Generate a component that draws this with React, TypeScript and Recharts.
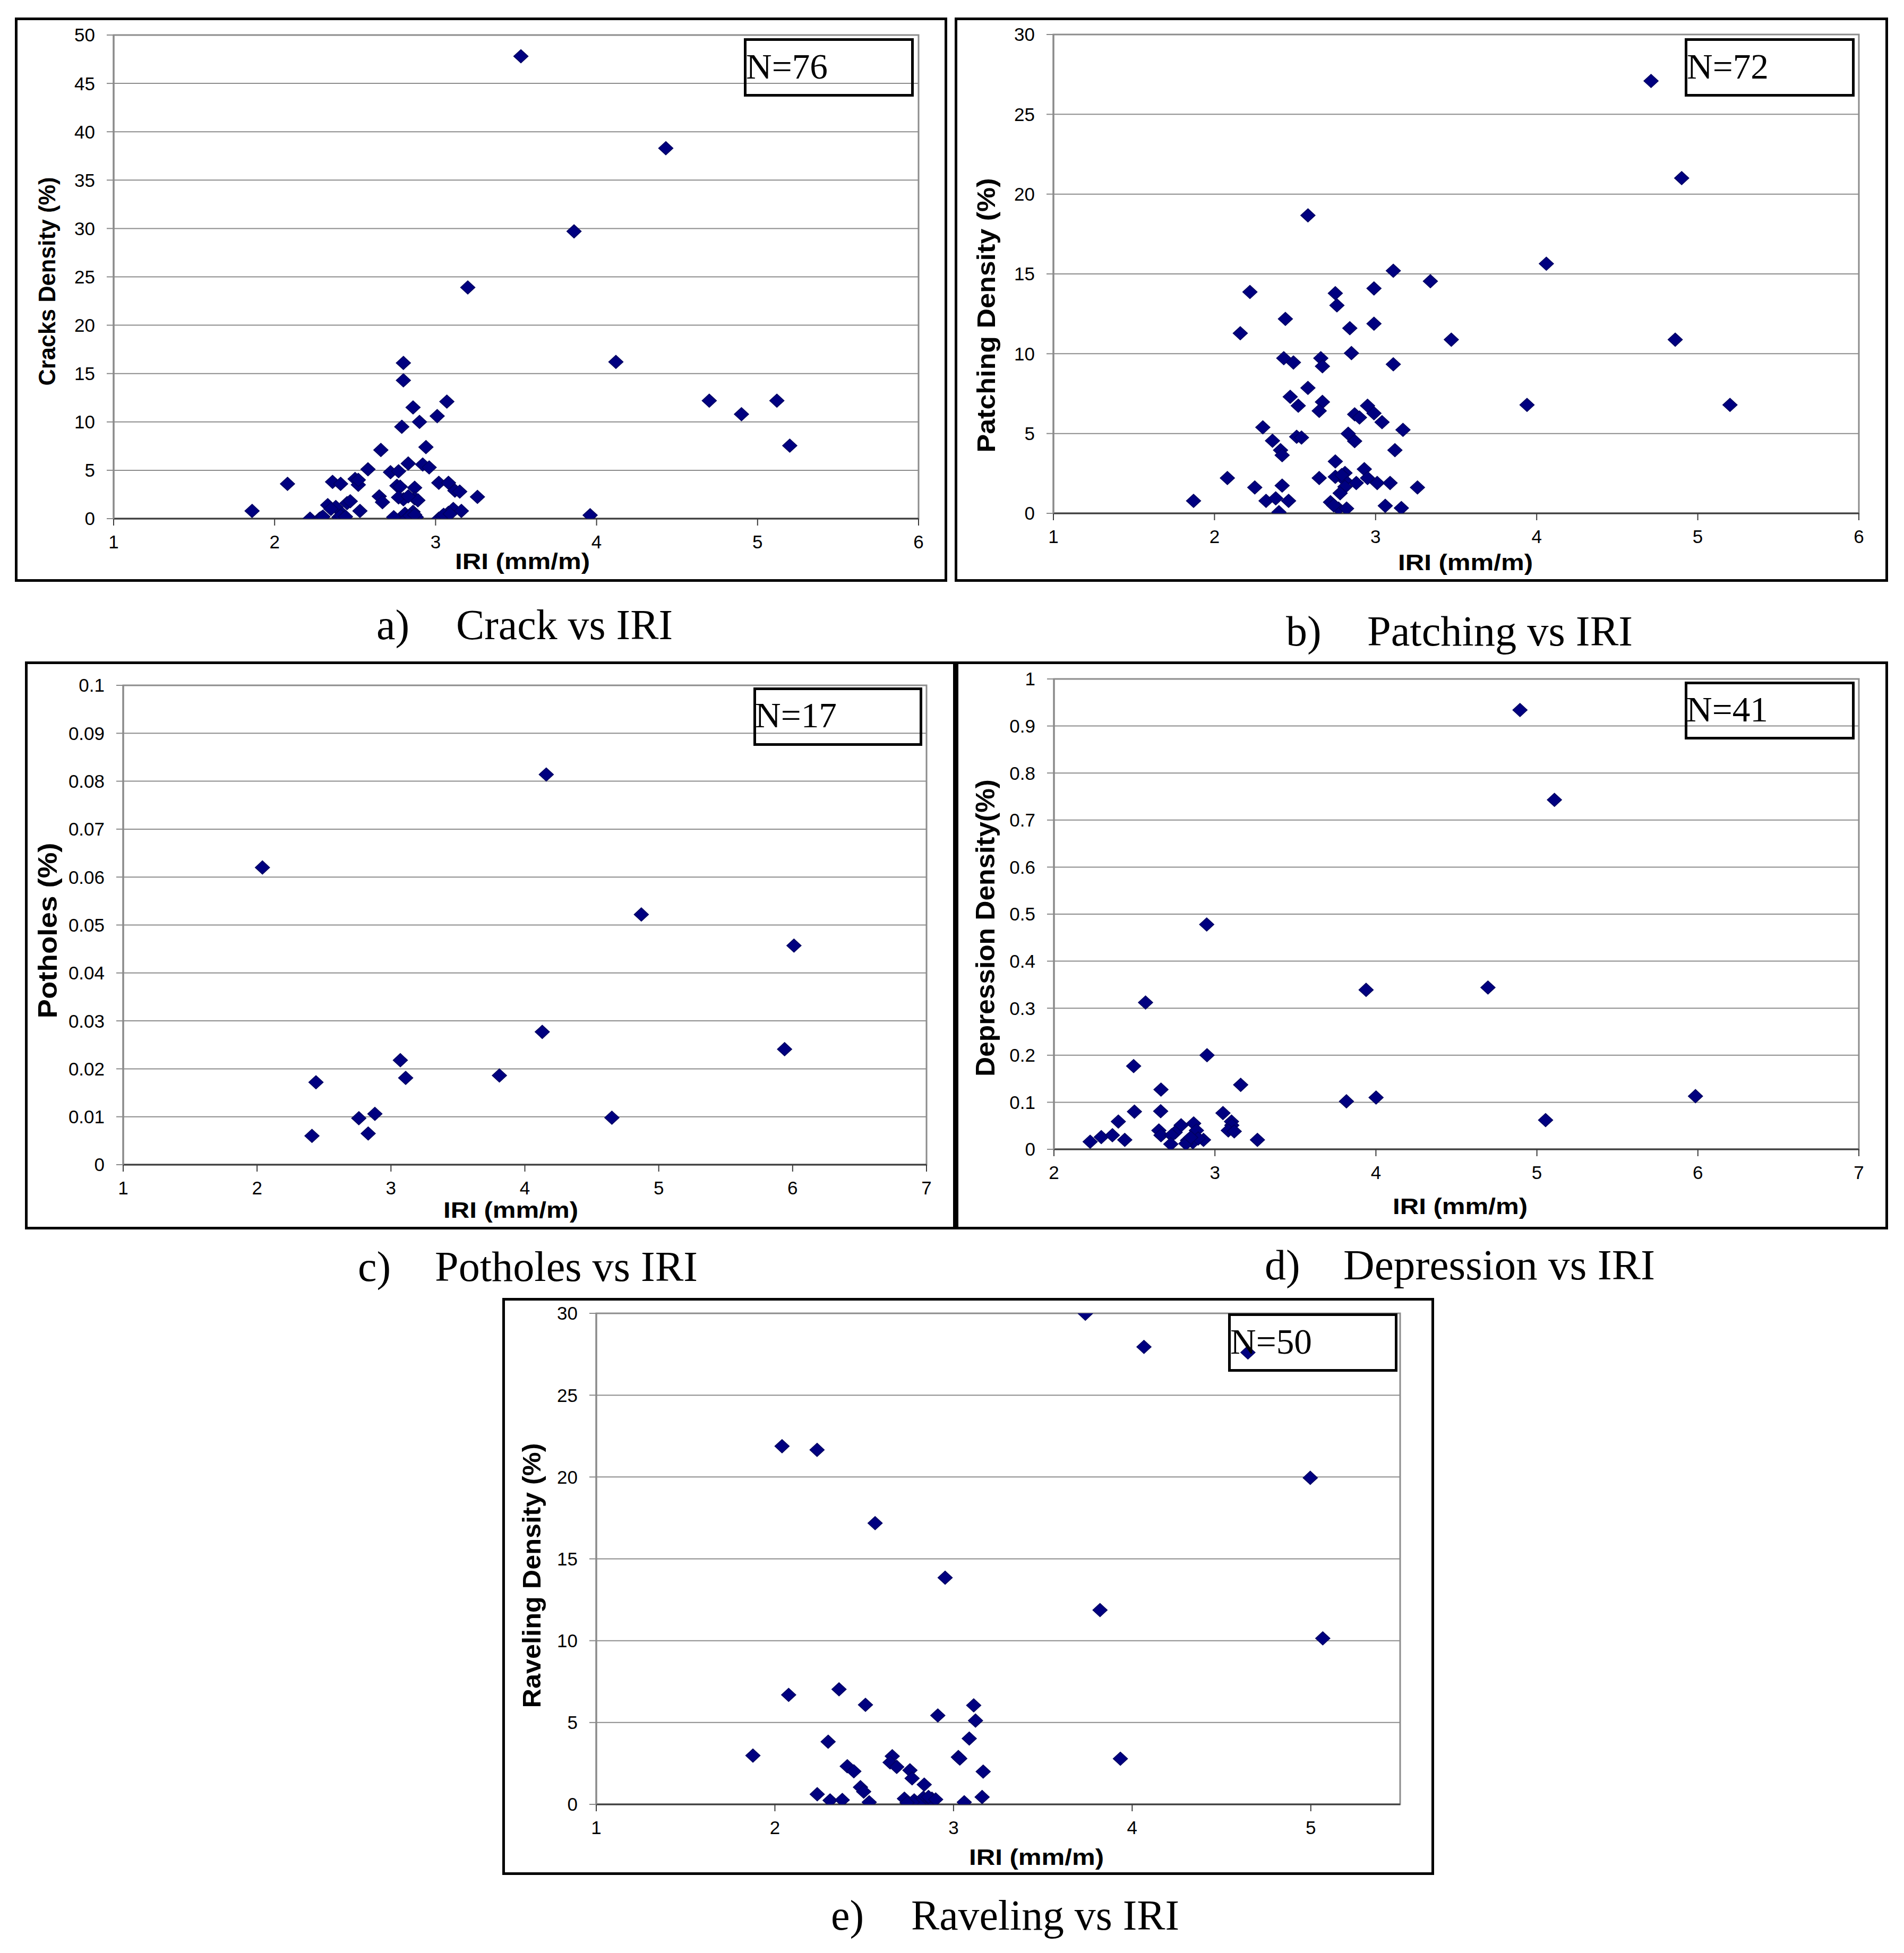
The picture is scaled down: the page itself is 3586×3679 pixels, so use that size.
import React from 'react';
import { ScatterChart, Scatter, XAxis, YAxis, CartesianGrid, ReferenceArea } from 'recharts';

// ---------- data ----------
const crackIri = [1.86,2.08,2.22,2.28,2.29,2.33,2.36,2.38,2.40,2.41,2.42,2.43,2.45,2.47,2.50,2.52,2.53,2.58,2.65,2.66,2.67,2.72,2.74,2.76,2.77,2.78,2.79,2.80,2.80,2.80,2.81,2.82,2.83,2.86,2.86,2.87,2.87,2.88,2.89,2.90,2.92,2.94,2.96,3.01,3.02,3.02,3.04,3.07,3.08,3.08,3.11,3.12,3.15,3.16,3.20,3.26,3.53,3.86,3.96,4.12,4.43,4.70,4.90,5.12,5.20,2.35,2.41,2.44,2.84,2.87,3.05,3.09,2.77,2.52,2.30,2.83];
const crackDensity = [0.8,3.6,0,0,0.1,1.4,3.8,1.2,0.15,3.6,0.5,0,1.6,1.8,4.1,3.5,0.8,5.1,2.3,7.1,1.7,4.8,0.15,3.4,4.9,3.3,9.5,2.0,16.1,14.3,0.5,0,5.7,0.7,11.5,3.2,2.1,0.15,1.9,10.0,5.6,7.4,5.3,10.6,3.7,0,0.24,12.1,0.6,3.7,1.0,2.9,2.8,0.8,23.9,2.25,47.8,29.7,0.35,16.2,38.3,12.2,10.8,12.2,7.55,1.0,0.3,0.2,0.3,0.4,0.4,0.5,2.2,4.0,0.2,2.3];

const patchIri = [2.58,3.11,3.34,2.22,2.75,2.76,2.99,2.44,2.16,2.84,2.99,2.85,2.43,2.49,2.66,2.67,3.11,2.58,2.47,2.52,2.67,2.65,2.95,2.99,3.04,2.87,2.90,3.17,2.30,2.36,2.51,2.54,2.83,2.87,3.12,2.41,2.42,2.75,2.08,2.65,2.75,2.81,2.81,2.81,2.88,2.93,2.95,3.01,3.09,2.25,2.42,3.26,1.87,2.32,2.38,2.46,2.40,2.72,2.77,2.82,2.78,3.06,3.16,4.71,4.90,4.06,3.47,4.86,3.94,5.20,2.74,2.79];
const patchDensity = [18.67,15.2,14.54,13.87,13.79,13.03,14.09,12.18,11.28,11.6,11.88,10.04,9.72,9.45,9.72,9.21,9.34,7.86,7.3,6.74,6.98,6.42,6.74,6.27,5.71,6.2,6.0,5.23,5.39,4.55,4.8,4.75,4.99,4.52,3.96,3.96,3.64,3.25,2.21,2.21,2.29,2.53,2.05,1.66,1.9,2.77,2.21,1.9,1.9,1.62,1.74,1.62,0.78,0.78,0.94,0.78,0.07,0.7,0.3,0.3,1.26,0.47,0.33,27.09,21.0,15.64,10.88,10.88,6.79,6.79,0.5,2.4];

const potholeIri = [2.04,4.16,4.87,6.01,4.13,5.94,3.07,3.11,3.81,2.44,4.65,2.88,2.76,2.83,2.41];
const potholeValue = [0.062,0.0814,0.0522,0.0457,0.0277,0.0241,0.0218,0.0181,0.0186,0.0172,0.0098,0.0106,0.0097,0.0065,0.006];

const deprIri = [4.895,5.109,2.949,4.696,3.939,2.569,2.951,2.495,3.16,2.665,5.985,4.001,3.817,2.50,2.663,3.05,5.054,2.40,3.103,3.105,3.083,3.12,2.652,2.665,2.79,2.753,2.731,2.868,2.885,2.225,2.294,2.363,2.44,2.726,2.83,2.863,2.929,2.896,3.264,2.82,2.85];
const deprDensity = [0.934,0.743,0.478,0.344,0.339,0.312,0.200,0.177,0.137,0.127,0.113,0.110,0.102,0.080,0.081,0.077,0.062,0.059,0.059,0.051,0.040,0.038,0.040,0.030,0.051,0.036,0.030,0.055,0.040,0.016,0.026,0.030,0.020,0.011,0.019,0.015,0.020,0.023,0.020,0.012,0.025];

const ravelIri = [3.738,4.066,4.648,2.04,2.236,4.997,2.561,2.953,3.82,5.067,3.934,1.877,2.077,2.359,2.507,2.912,3.113,3.123,3.088,3.027,3.035,3.166,3.16,3.06,2.298,2.405,2.442,2.479,2.497,2.237,2.309,2.377,2.528,2.657,2.645,2.682,2.756,2.768,2.836,2.725,2.78,2.83,2.879,2.848,2.805,2.77,2.88,2.86,2.74,2.9];
const ravelDensity = [29.98,27.95,27.61,21.88,21.66,19.95,17.18,13.85,11.87,10.14,2.79,2.98,6.69,7.03,6.08,5.43,6.05,5.12,4.02,2.89,2.8,2.0,0.45,0.13,3.83,2.33,2.02,1.05,0.78,0.62,0.24,0.27,0.13,2.94,2.56,2.29,2.08,1.59,1.21,0.35,0.24,0.4,0.35,0,0.02,0.13,0.2,0.45,0.1,0.3];

const iriTicks16 = [1, 2, 3, 4, 5, 6];
const iriTicks17 = [1, 2, 3, 4, 5, 6, 7];
const iriTicks27 = [2, 3, 4, 5, 6, 7];
const iriTicks15 = [1, 2, 3, 4, 5];
const crackTicks = [0, 5, 10, 15, 20, 25, 30, 35, 40, 45, 50];
const patchTicks = [0, 5, 10, 15, 20, 25, 30];
const potholeTicks = [0, 0.01, 0.02, 0.03, 0.04, 0.05, 0.06, 0.07, 0.08, 0.09, 0.1];
const deprTicks = [0, 0.1, 0.2, 0.3, 0.4, 0.5, 0.6, 0.7, 0.8, 0.9, 1];
const ravelTicks = [0, 5, 10, 15, 20, 25, 30];

const zip = (xs: number[], ys: number[]) => xs.map((x, i) => ({ x, y: ys[i] }));

// ---------- style ----------
const SANS = "'Liberation Sans', Arial, sans-serif";
const SERIF = "'Liberation Serif', 'Times New Roman', serif";
const MARK = '#000080';
const GRID = '#8c8c8c';

const diamond = (props: any) => {
  const { cx, cy } = props;
  if (cx == null || cy == null) return <g />;
  const rx = 13.5, ry = 12.5;
  return (
    <path
      d={`M${cx},${cy - ry}L${cx + rx},${cy}L${cx},${cy + ry}L${cx - rx},${cy}Z`}
      fill={MARK}
      stroke="#000060"
      strokeWidth={1.5}
    />
  );
};

type Panel = {
  key: string;
  frame: [number, number, number, number];
  plot: [number, number, number, number];
  xDomain: [number, number];
  xTicks: number[];
  yDomain: [number, number];
  yTicks: number[];
  data: { x: number; y: number }[];
  yTitle: { text: string; x: number; cy: number; len: number; fs: number };
  xTitle: { cx: number; base: number };
  nBox: { r: [number, number, number, number]; text: string; tx: number; base: number };
  caption: { tag: string; tagX: number; text: string; x: number; base: number; len: number };
};

const panels: Panel[] = [
  {
    key: 'a', frame: [28, 33, 1756, 1063], plot: [214, 66, 1730, 977],
    xDomain: [1, 6], xTicks: iriTicks16, yDomain: [0, 50], yTicks: crackTicks,
    data: zip(crackIri, crackDensity),
    yTitle: { text: 'Cracks Density (%)', x: 104, cy: 530, len: 393, fs: 44 },
    xTitle: { cx: 984, base: 1072 },
    nBox: { r: [1401, 72, 1721, 182], text: 'N=76', tx: 1405, base: 148 },
    caption: { tag: 'a)', tagX: 709, text: 'Crack vs IRI', x: 859, base: 1204, len: 408 },
  },
  {
    key: 'b', frame: [1798, 33, 1758, 1063], plot: [1984, 65, 3501, 967],
    xDomain: [1, 6], xTicks: iriTicks16, yDomain: [0, 30], yTicks: patchTicks,
    data: zip(patchIri, patchDensity),
    yTitle: { text: 'Patching Density (%)', x: 1874, cy: 594, len: 517, fs: 48 },
    xTitle: { cx: 2760, base: 1074 },
    nBox: { r: [3173, 72, 3493, 182], text: 'N=72', tx: 3177, base: 148 },
    caption: { tag: 'b)', tagX: 2422, text: 'Patching vs IRI', x: 2575, base: 1216, len: 500 },
  },
  {
    key: 'c', frame: [47, 1246, 1753, 1070], plot: [232, 1291, 1745, 2194],
    xDomain: [1, 7], xTicks: iriTicks17, yDomain: [0, 0.1], yTicks: potholeTicks,
    data: zip(potholeIri, potholeValue),
    yTitle: { text: 'Potholes (%)', x: 107, cy: 1753, len: 331, fs: 50 },
    xTitle: { cx: 962, base: 2294 },
    nBox: { r: [1419, 1295, 1737, 1405], text: 'N=17', tx: 1422, base: 1370 },
    caption: { tag: 'c)', tagX: 674, text: 'Potholes vs IRI', x: 819, base: 2413, len: 495 },
  },
  {
    key: 'd', frame: [1800, 1246, 1756, 1070], plot: [1985, 1279, 3501, 2165],
    xDomain: [2, 7], xTicks: iriTicks27, yDomain: [0, 1], yTicks: deprTicks,
    data: zip(deprIri, deprDensity),
    yTitle: { text: 'Depression Density(%)', x: 1873, cy: 1748, len: 560, fs: 50 },
    xTitle: { cx: 2750, base: 2287 },
    nBox: { r: [3173, 1284, 3493, 1393], text: 'N=41', tx: 3176, base: 1359 },
    caption: { tag: 'd)', tagX: 2382, text: 'Depression vs IRI', x: 2530, base: 2410, len: 587 },
  },
  {
    key: 'e', frame: [946, 2445, 1755, 1087], plot: [1123, 2474, 2637, 3399],
    xDomain: [1, 5.5], xTicks: iriTicks15, yDomain: [0, 30], yTicks: ravelTicks,
    data: zip(ravelIri, ravelDensity),
    yTitle: { text: 'Raveling Density (%)', x: 1018, cy: 2968, len: 499, fs: 49 },
    xTitle: { cx: 1952, base: 3513 },
    nBox: { r: [2313, 2474, 2632, 2584], text: 'N=50', tx: 2317, base: 2550 },
    caption: { tag: 'e)', tagX: 1565, text: 'Raveling vs IRI', x: 1716, base: 3635, len: 505 },
  },
];

const tickStyle = { fontSize: 35, fill: '#000', fontFamily: SANS };

function PanelChart({ p }: { p: Panel }) {
  const [fx, fy, fw, fh] = p.frame;
  const [pl, pt, pr, pb] = p.plot;
  return (
    <div style={{ position: 'absolute', left: fx, top: fy, width: fw, height: fh }}>
      <ScatterChart
        width={fw}
        height={fh}
        margin={{ top: pt - fy, right: fx + fw - pr, bottom: 0, left: 0 }}
      >
        <CartesianGrid horizontal vertical={false} stroke={GRID} strokeWidth={2} />
        <ReferenceArea
          x1={p.xDomain[0]} x2={p.xDomain[1]} y1={p.yDomain[0]} y2={p.yDomain[1]}
          fill="none" fillOpacity={0} stroke={GRID} strokeWidth={3}
        />
        <XAxis
          type="number" dataKey="x" domain={p.xDomain} ticks={p.xTicks} interval={0}
          height={fy + fh - pb} allowDataOverflow
          axisLine={{ stroke: '#3c3c3c', strokeWidth: 3 }}
          tickLine={{ stroke: '#3c3c3c', strokeWidth: 2 }}
          tickSize={13} tickMargin={18} tick={tickStyle}
        />
        <YAxis
          type="number" dataKey="y" domain={p.yDomain} ticks={p.yTicks} interval={0}
          width={pl - fx} allowDataOverflow
          axisLine={{ stroke: '#8a8a8a', strokeWidth: 3 }}
          tickLine={{ stroke: '#8a8a8a', strokeWidth: 2 }}
          tickSize={13} tickMargin={22} tick={tickStyle}
        />
        <Scatter data={p.data} shape={diamond} isAnimationActive={false} />
      </ScatterChart>
    </div>
  );
}

export default function App() {
  return (
    <div style={{ position: 'absolute', left: 0, top: 0, width: 3586, height: 3679, background: '#fff', overflow: 'hidden' }}>
      {panels.map((p) => (
        <PanelChart key={p.key} p={p} />
      ))}
      <svg width={3586} height={3679} style={{ position: 'absolute', left: 0, top: 0, pointerEvents: 'none' }}>
        {panels.map((p) => {
          const [fx, fy, fw, fh] = p.frame;
          const [bx0, by0, bx1, by1] = p.nBox.r;
          return (
            <g key={p.key}>
              <rect x={fx + 2.5} y={fy + 2.5} width={fw - 5} height={fh - 5} fill="none" stroke="#000" strokeWidth={5} />
              <rect x={bx0 + 2.5} y={by0 + 2.5} width={bx1 - bx0 - 5} height={by1 - by0 - 5} fill="none" stroke="#000" strokeWidth={5} />
              <text x={p.nBox.tx} y={p.nBox.base} fontFamily={SERIF} fontSize={68} textLength={154} lengthAdjust="spacingAndGlyphs" fill="#000">
                {p.nBox.text}
              </text>
              <text
                x={p.yTitle.x} y={p.yTitle.cy} transform={`rotate(-90 ${p.yTitle.x} ${p.yTitle.cy})`}
                textAnchor="middle" fontFamily={SANS} fontWeight="bold" fontSize={p.yTitle.fs}
                textLength={p.yTitle.len} lengthAdjust="spacingAndGlyphs" fill="#000"
              >
                {p.yTitle.text}
              </text>
              <text
                x={p.xTitle.cx} y={p.xTitle.base} textAnchor="middle" fontFamily={SANS} fontWeight="bold"
                fontSize={42} textLength={254} lengthAdjust="spacingAndGlyphs" fill="#000"
              >
                IRI (mm/m)
              </text>
              <text x={p.caption.tagX} y={p.caption.base} fontFamily={SERIF} fontSize={80} fill="#000">
                {p.caption.tag}
              </text>
              <text x={p.caption.x} y={p.caption.base} fontFamily={SERIF} fontSize={80} textLength={p.caption.len} lengthAdjust="spacingAndGlyphs" fill="#000">
                {p.caption.text}
              </text>
            </g>
          );
        })}
      </svg>
    </div>
  );
}
